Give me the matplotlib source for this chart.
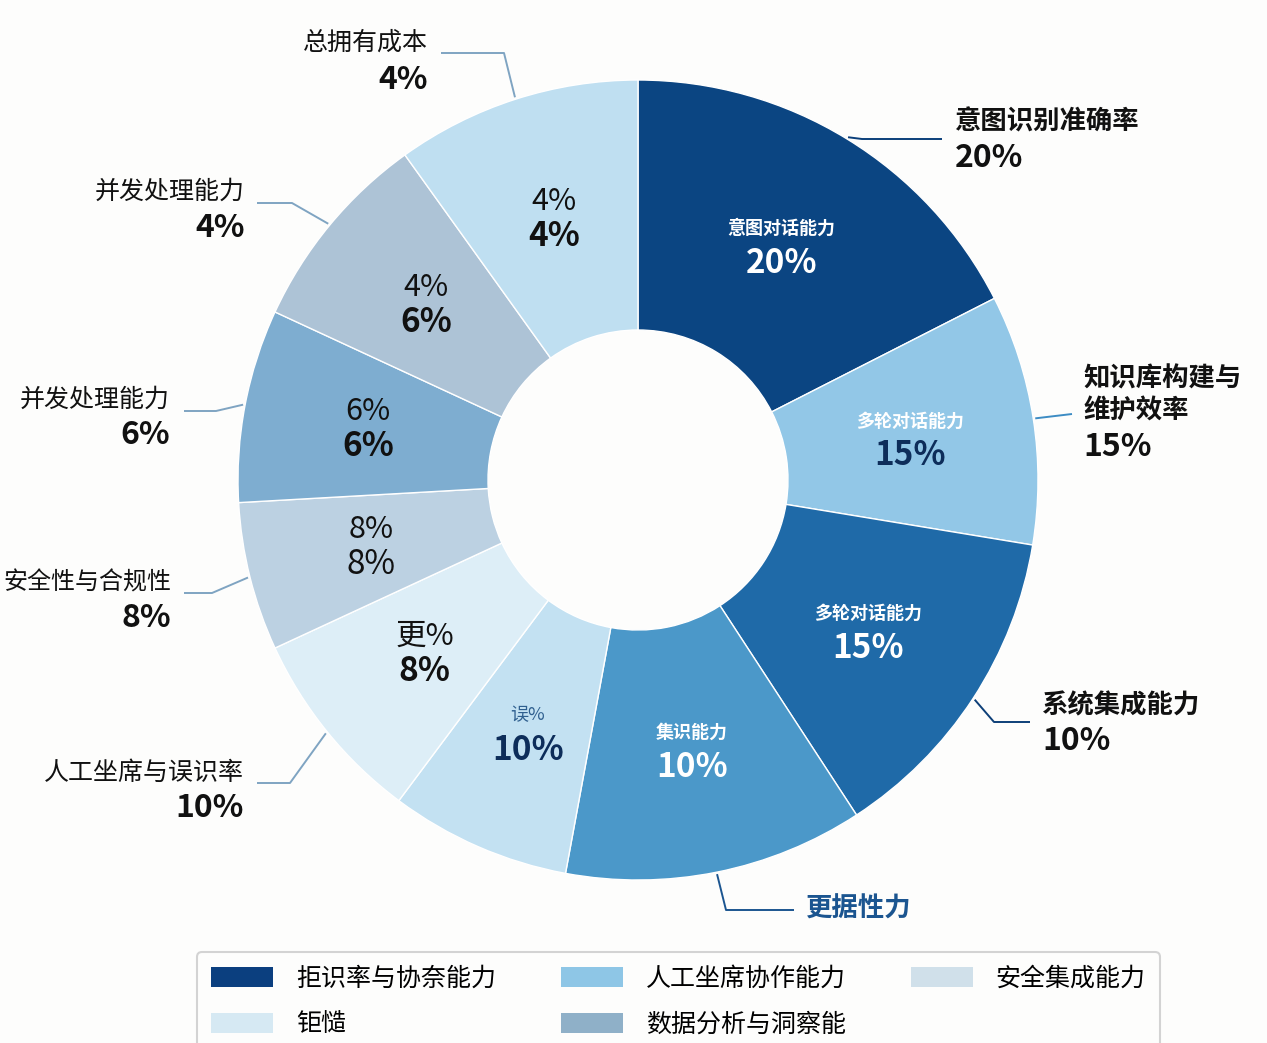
import numpy as np
import matplotlib
matplotlib.use('Agg')
import matplotlib.pyplot as plt
from matplotlib.patches import Patch

plt.rcParams['font.family'] = ['Noto Sans CJK SC', 'DejaVu Sans']

# slice shares as drawn (clockwise from 12 o'clock)
shares = [17.5, 10.1, 13.2, 12.1, 7.3, 7.9, 6.0, 7.8, 8.2, 9.9]
colors = ['#0b4582', '#92c7e7', '#1f6aa8', '#4b98c9', '#c3e1f2',
          '#ddeef7', '#bcd1e2', '#7eadd0', '#adc3d6', '#bfdff1']

inner_top = ['意图对话能力', '多轮对话能力', '多轮对话能力', '集识能力', '误%',
             '更%', '8%', '6%', '4%', '4%']
inner_pct = ['20%', '15%', '15%', '10%', '10%', '8%', '8%', '6%', '6%', '4%']

outer_names = ['意图识别准确率', '知识库构建与\n维护效率', '系统集成能力', '更据性力', '',
               '人工坐席与误识率', '安全性与合规性', '并发处理能力', '并发处理能力', '总拥有成本']
outer_pcts = ['20%', '15%', '10%', '', '', '10%', '8%', '6%', '4%', '4%']

legend_labels = ['拒识率与协奈能力', '钜慥', '人工坐席协作能力', '数据分析与洞察能', '安全集成能力']
legend_colors = ['#0b3f7f', '#d6e9f3', '#8ec6e6', '#8fb0c8', '#d0e0ea']

W, H = 1267, 1043
CX, CY, R, RIN = 638, 480, 400, 150

fig = plt.figure(figsize=(12.67, 10.43), dpi=100, facecolor='#fdfdfc')
ax = fig.add_axes([0, 0, 1, 1])
wedges, _ = ax.pie(shares, colors=colors, startangle=90, counterclock=False,
                   radius=R, center=(CX, H - CY), frame=True,
                   wedgeprops=dict(width=R - RIN, edgecolor='white', linewidth=1.0))
ax.set_xlim(0, W)
ax.set_ylim(0, H)
ax.axis('off')

# inner labels
top_style = [dict(size=13, color='white', weight='semibold')] * 4 + \
            [dict(size=13, color='#2f5f8f', weight='normal')] + \
            [dict(size=22, color='#111111', weight='normal')] * 5
pct_color = ['white', '#0d2d5a', 'white', 'white', '#0d2d5a'] + ['#111111'] * 5
pct_weight = ['bold'] * 6 + ['normal'] + ['bold'] * 3
rm = (R + RIN) / 2
for i, w in enumerate(wedges):
    th = np.deg2rad((w.theta1 + w.theta2) / 2)
    x = CX + rm * np.cos(th)
    y = (H - CY) + rm * np.sin(th)
    ax.text(x, y + 17, inner_top[i], ha='center', va='center', **top_style[i])
    ax.text(x, y - 18, inner_pct[i], ha='center', va='center', size=24,
            color=pct_color[i], weight=pct_weight[i])

# outer labels: (text x, name y, pct y, ha, elbow points, line color, name style)
layout = {
    0: (955, 122, 158, 'left', [(862, 139), (942, 139)], '#0b3f7a', dict(size=19, weight='bold')),
    1: (1083, 395, 447, 'left', [(1072, 414)], '#3d8cc4', dict(size=19, weight='bold', linespacing=1.25)),
    2: (1042, 706, 741, 'left', [(994, 722), (1030, 722)], '#0d3f78', dict(size=19, weight='bold')),
    3: (806, 909, None, 'left', [(726, 910), (794, 910)], '#1b5590', dict(size=19, weight='bold', color='#1b5590')),
    5: (244, 773, 808, 'right', [(290, 783), (257, 783)], '#7fa4c2', dict(size=18)),
    6: (171, 583, 618, 'right', [(212, 593), (184, 593)], '#7fa4c2', dict(size=17.3)),
    7: (170, 400, 435, 'right', [(216, 411), (184, 411)], '#7fa4c2', dict(size=18)),
    8: (245, 192, 228, 'right', [(292, 203), (257, 203)], '#7fa4c2', dict(size=18)),
    9: (428, 43, 80, 'right', [(504, 53), (441, 53)], '#7fa4c2', dict(size=18)),
}
for i, (tx, ny, py, ha, pts, lc, st) in layout.items():
    w = wedges[i]
    th = np.deg2rad((w.theta1 + w.theta2) / 2)
    xs = [CX + (R + 2) * np.cos(th)] + [p[0] for p in pts]
    ys = [(H - CY) + (R + 2) * np.sin(th)] + [H - p[1] for p in pts]
    ax.plot(xs, ys, color=lc, lw=1.4, solid_capstyle='butt')
    st = dict(st)
    st.setdefault('color', '#111111')
    ax.text(tx, H - ny, outer_names[i], ha=ha, va='center', **st)
    if py is not None:
        ax.text(tx, H - py, outer_pcts[i], ha=ha, va='center', size=23,
                weight='bold', color='#111111')

handles = [Patch(facecolor=c, edgecolor='none') for c in legend_colors]
leg = fig.legend(handles, legend_labels, ncol=3, loc='upper left',
                 bbox_to_anchor=(197 / W, 1 - 952 / H), borderaxespad=0,
                 frameon=True, fancybox=True,
                 fontsize=18, handlelength=2.5, handleheight=0.85, handletextpad=0.9,
                 columnspacing=2.6, labelspacing=0.78, borderpad=0.55)
leg.get_frame().set_edgecolor('#c9c9c9')
leg.get_frame().set_linewidth(1.5)
leg.get_frame().set_facecolor('#fdfdfc')

fig.savefig('out.png', dpi=100, facecolor=fig.get_facecolor())
